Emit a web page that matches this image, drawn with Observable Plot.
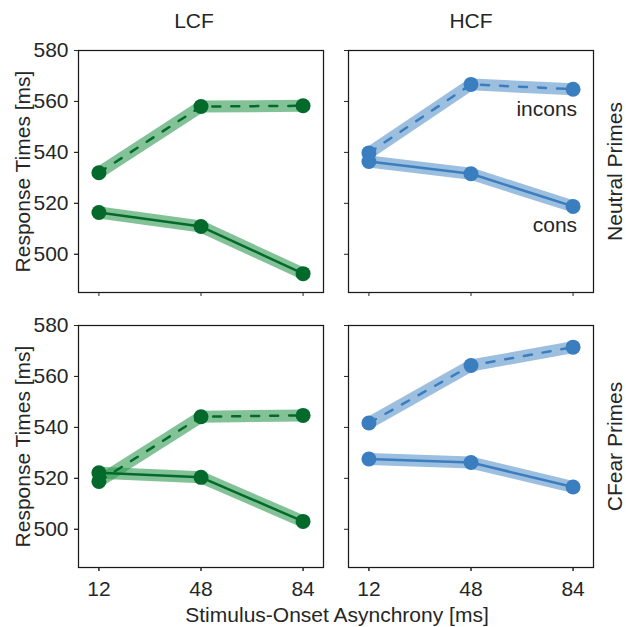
<!DOCTYPE html>
<html><head><meta charset="utf-8">
<script src="https://cdn.jsdelivr.net/npm/d3@7"></script>
<script src="https://cdn.jsdelivr.net/npm/@observablehq/plot@0.6"></script>
<style>html,body{margin:0;padding:0;background:#fff;} #chart{width:626px;height:627px;}</style>
</head><body><div id="chart"></div>
<script>
// ---- data ----
const soa = [12, 48, 84];
const columns = ["LCF", "HCF"];
const rows = ["Neutral Primes", "CFear Primes"];
const conditions = ["incons", "cons"];
const lcfNeutralIncons = [532.0, 558.0, 558.3];
const lcfNeutralCons   = [516.4, 510.9, 492.4];
const hcfNeutralIncons = [539.8, 566.7, 564.8];
const hcfNeutralCons   = [536.4, 531.6, 518.8];
const lcfCFearIncons   = [518.8, 544.2, 544.7];
const lcfCFearCons     = [522.2, 520.4, 503.1];
const hcfCFearIncons   = [541.7, 564.3, 571.5];
const hcfCFearCons     = [527.6, 526.2, 516.6];
const yTicks = [500, 520, 540, 560, 580];
const labelNames = ["incons", "cons"];
const labelRT = [557, 511.5];
const xLabel = "Stimulus-Onset Asynchrony [ms]";
const yLabel = "Response Times [ms]";

const series = [
  ["LCF", "Neutral Primes", "incons", lcfNeutralIncons],
  ["LCF", "Neutral Primes", "cons", lcfNeutralCons],
  ["HCF", "Neutral Primes", "incons", hcfNeutralIncons],
  ["HCF", "Neutral Primes", "cons", hcfNeutralCons],
  ["LCF", "CFear Primes", "incons", lcfCFearIncons],
  ["LCF", "CFear Primes", "cons", lcfCFearCons],
  ["HCF", "CFear Primes", "incons", hcfCFearIncons],
  ["HCF", "CFear Primes", "cons", hcfCFearCons]
];
const data = series.flatMap(([col, row, cond, vals]) =>
  vals.map((rt, i) => ({col, row, cond, soa: soa[i], rt})));

// ---- styles ----
const palette = {
  LCF: {line: "#046a2b", band: "#2f9a50", bandOpacity: 0.6, titleDx: -7},
  HCF: {line: "#3a7ebf", band: "#3a7ebf", bandOpacity: 0.5, titleDx: 0}
};
const ink = "#262626";
const fs = 21;

const marks = [];
marks.push(Plot.frame({stroke: "#1a1a1a", strokeWidth: 1.25}));
for (const col of columns) {
  const p = palette[col];
  const d = data.filter(r => r.col === col);
  marks.push(Plot.line(d, {x: "soa", y: "rt", z: "cond", fx: "col", fy: "row",
    stroke: p.band, strokeWidth: 12, strokeOpacity: p.bandOpacity}));
}
for (const col of columns) {
  const p = palette[col];
  const d = data.filter(r => r.col === col);
  marks.push(Plot.line(d.filter(r => r.cond === "cons"), {x: "soa", y: "rt", fx: "col", fy: "row",
    stroke: p.line, strokeWidth: 2.5}));
  marks.push(Plot.line(d.filter(r => r.cond === "incons"), {x: "soa", y: "rt", fx: "col", fy: "row",
    stroke: p.line, strokeWidth: 2.5, strokeDasharray: "8,11"}));
  marks.push(Plot.dot(d, {x: "soa", y: "rt", fx: "col", fy: "row", r: 7.5, fill: p.line, stroke: "none"}));
  marks.push(Plot.text([col], {fx: c => c, fy: () => rows[0], text: c => c,
    frameAnchor: "top", lineAnchor: "middle", dy: -29, dx: p.titleDx, fill: ink, fontSize: fs}));
}
// axes
marks.push(Plot.axisY(yTicks, {tickSize: 4, tickPadding: 6, facetAnchor: "left", label: null,
  color: ink, fontSize: fs}));
marks.push(Plot.axisY(yTicks, {tickSize: 4, fill: "none", stroke: ink, facetAnchor: null, label: null}));
marks.push(Plot.axisX(soa, {tickSize: 4, tickPadding: 10, facetAnchor: "bottom", label: null,
  color: ink, fontSize: fs}));
marks.push(Plot.axisX(soa, {tickSize: 4, fill: "none", stroke: ink, facetAnchor: null, label: null}));
// axis titles and facet labels
marks.push(Plot.text(rows, {fy: r => r, fx: () => columns[0], text: () => yLabel,
  frameAnchor: "left", textAnchor: "middle", lineAnchor: "middle", rotate: -90, dx: -55.5,
  fill: ink, fontSize: fs}));
marks.push(Plot.text(rows, {fy: r => r, fx: () => columns[1], text: r => r,
  frameAnchor: "right", textAnchor: "middle", lineAnchor: "middle", rotate: -90, dx: 22,
  fill: ink, fontSize: fs}));
marks.push(Plot.text([xLabel], {fx: () => columns[0], fy: () => rows[1], text: t => t,
  frameAnchor: "bottom", textAnchor: "middle", dx: 136, dy: 48, lineAnchor: "middle",
  fill: ink, fontSize: fs}));
// in-panel labels
marks.push(Plot.text(labelNames, {x: () => soa[2], y: (d, i) => labelRT[i], text: d => d,
  fx: () => columns[1], fy: () => rows[0], textAnchor: "end", dx: 4, fill: ink, fontSize: fs}));

const chart = Plot.plot({
  width: 626, height: 627,
  marginLeft: 78, marginRight: 33, marginTop: 50, marginBottom: 60,
  style: {fontFamily: "'Liberation Sans', Arial, sans-serif", fontSize: fs + "px", color: ink, background: "#fff"},
  x: {domain: [4.8, 91.2], axis: null},
  y: {domain: [485, 580], axis: null},
  fx: {domain: columns, paddingInner: 25 / 270, paddingOuter: 0, axis: null},
  fy: {domain: rows, paddingInner: 33 / 275, paddingOuter: 0, axis: null},
  marks
});
document.getElementById("chart").appendChild(chart);
</script>
</body></html>
